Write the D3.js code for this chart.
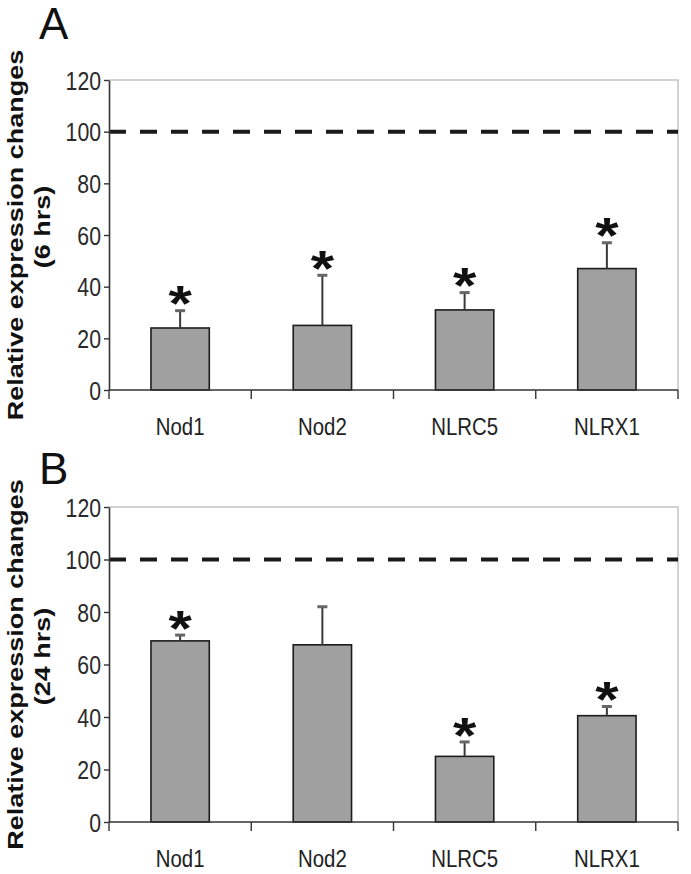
<!DOCTYPE html>
<html>
<head>
<meta charset="utf-8">
<script src="https://cdn.jsdelivr.net/npm/d3@7"></script>
<style>
  html, body { margin: 0; padding: 0; background: #ffffff; }
  svg { display: block; }
</style>
</head>
<body>
<svg id="chart" width="691" height="874"></svg>
<script>
// ---------------- data ----------------
const categories = ["Nod1", "Nod2", "NLRC5", "NLRX1"];
const values6h   = [24, 25, 31, 47];
const errors6h   = [6.7, 19.4, 6.7, 10];
const signif6h   = [true, true, true, true];
const values24h  = [69, 67.5, 25, 40.5];
const errors24h  = [2.2, 14.5, 5.5, 3.5];
const signif24h  = [true, false, true, true];
const yTicks     = [0, 20, 40, 60, 80, 100, 120];
const referenceLevel = 100;
const panelLetters = ["A", "B"];
const yTitleLine1 = "Relative expression changes";
const yTitleLine2 = ["(6 hrs)", "(24 hrs)"];

// ---------------- drawing ----------------
const svg = d3.select("#chart");
svg.append("rect").attr("width", 691).attr("height", 874).attr("fill", "#ffffff");

const SX = 0.85; // horizontal compression of the original picture

const panels = [
  { letter: panelLetters[0], values: values6h, errors: errors6h, signif: signif6h,
    line2: yTitleLine2[0], top: 80, bottom: 390, letterY: 39 },
  { letter: panelLetters[1], values: values24h, errors: errors24h, signif: signif24h,
    line2: yTitleLine2[1], top: 507, bottom: 822, letterY: 484 }
];

const left = 109, right = 678;
const x = d3.scaleBand().domain(categories).range([left, right])
  .paddingInner(0.59).paddingOuter(0.295);

panels.forEach(p => {
  const g = svg.append("g");
  const y = d3.scaleLinear().domain([0, 120]).range([p.bottom, p.top]);

  // plot-area border (top & right, light gray)
  g.append("path")
    .attr("d", `M${left},${y(120)}H${right}V${y(0)}`)
    .attr("fill", "none").attr("stroke", "#c4c4c4").attr("stroke-width", 1.5);

  // bars
  g.selectAll("rect.bar").data(categories).enter().append("rect")
    .attr("class", "bar")
    .attr("x", d => x(d))
    .attr("width", x.bandwidth())
    .attr("y", (d, i) => y(p.values[i]))
    .attr("height", (d, i) => y(0) - y(p.values[i]))
    .attr("fill", "#a0a0a0")
    .attr("stroke", "#1c1c1c")
    .attr("stroke-width", 1.6);

  // error bars (upper only)
  categories.forEach((c, i) => {
    const cx = x(c) + x.bandwidth() / 2;
    const yTop = y(p.values[i] + p.errors[i]);
    g.append("line")
      .attr("x1", cx).attr("x2", cx)
      .attr("y1", y(p.values[i])).attr("y2", yTop)
      .attr("stroke", "#3a3a3a").attr("stroke-width", 2);
    g.append("line")
      .attr("x1", cx - 5).attr("x2", cx + 5)
      .attr("y1", yTop).attr("y2", yTop)
      .attr("stroke", "#666").attr("stroke-width", 3);
    if (p.signif[i]) {
      const fs = 50;
      const centerY = yTop - 18;
      g.append("text")
        .attr("transform", `translate(${cx},${centerY + 0.573 * fs}) scale(1.2,1)`)
        .attr("text-anchor", "middle")
        .attr("font-family", "'Liberation Sans', Arial, sans-serif")
        .attr("font-weight", "bold")
        .attr("font-size", fs)
        .attr("fill", "#111")
        .text("*");
    }
  });

  // reference dashed line
  g.append("line")
    .attr("x1", left).attr("x2", right)
    .attr("y1", y(referenceLevel)).attr("y2", y(referenceLevel))
    .attr("stroke", "#1a1a1a").attr("stroke-width", 4)
    .attr("stroke-dasharray", "17,14");

  // y axis
  const yAxis = d3.axisLeft(y).tickValues(yTicks).tickSize(5).tickPadding(4).tickSizeOuter(0);
  const ya = g.append("g").attr("transform", `translate(${left},0)`).call(yAxis);
  ya.select(".domain").attr("stroke", "#333").attr("stroke-width", 1.6);
  ya.selectAll(".tick line").attr("stroke", "#333").attr("stroke-width", 1.4);
  ya.selectAll(".tick text").each(function(d) {
    const t = d3.select(this);
    t.attr("x", null).attr("dy", null)
      .attr("transform", `translate(-8,${0.36 * 25}) scale(${SX},1)`)
      .attr("font-family", "'Liberation Sans', Arial, sans-serif")
      .attr("font-size", 25)
      .attr("fill", "#2a2a2a");
  });

  // x axis line with ticks at category boundaries
  g.append("line")
    .attr("x1", left).attr("x2", right)
    .attr("y1", y(0)).attr("y2", y(0))
    .attr("stroke", "#333").attr("stroke-width", 1.6);
  const bounds = d3.range(categories.length + 1).map(k => left + k * x.step());
  g.selectAll("line.xt").data(bounds).enter().append("line")
    .attr("class", "xt")
    .attr("x1", d => d).attr("x2", d => d)
    .attr("y1", y(0)).attr("y2", y(0) + 9)
    .attr("stroke", "#333").attr("stroke-width", 1.4);

  // x labels
  g.selectAll("text.xl").data(categories).enter().append("text")
    .attr("class", "xl")
    .attr("transform", d => `translate(${x(d) + x.bandwidth() / 2},${y(0) + 45}) scale(${SX},1)`)
    .attr("text-anchor", "middle")
    .attr("font-family", "'Liberation Sans', Arial, sans-serif")
    .attr("font-size", 24)
    .attr("fill", "#222")
    .text(d => d);

  // y title (two lines, rotated)
  const midY = (p.top + p.bottom) / 2;
  [[yTitleLine1, 23, 0], [p.line2, 50, -8]].forEach(([txt, bx, off]) => {
    g.append("text")
      .attr("transform", `translate(${bx},${midY + off}) scale(${SX},1) rotate(-90)`)
      .attr("text-anchor", "middle")
      .attr("font-family", "'Liberation Sans', Arial, sans-serif")
      .attr("font-weight", "bold")
      .attr("font-size", 27)
      .attr("fill", "#111")
      .text(txt);
  });

  // panel letter
  g.append("text")
    .attr("x", 39).attr("y", p.letterY)
    .attr("font-family", "'Liberation Sans', Arial, sans-serif")
    .attr("font-size", 44)
    .attr("fill", "#111")
    .text(p.letter);
});
</script>
</body>
</html>
